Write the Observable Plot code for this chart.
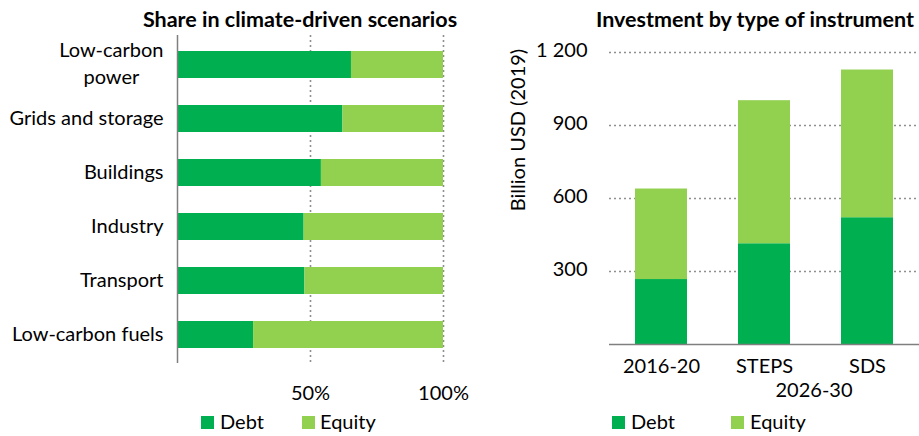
<!DOCTYPE html>
<html>
<head>
<meta charset="utf-8">
<script src="https://cdn.jsdelivr.net/npm/d3@7"></script>
<script src="https://cdn.jsdelivr.net/npm/@observablehq/plot@0.6"></script>
<style>
  html, body { margin: 0; padding: 0; background: #fff; }
  #root { position: relative; width: 919px; height: 436px; font-family: Lato, "Open Sans", sans-serif; color: #000; overflow: hidden; }
  .abs { position: absolute; white-space: nowrap; }
  .title { font-weight: bold; font-size: 21.5px; transform: translate(-50%, -50%); }
  .lbl { font-size: 20px; }
  .sq { position: absolute; width: 13px; height: 13px; }
  svg { position: absolute; top: 0; }
</style>
</head>
<body>
<div id="root"></div>
<script>
// ---- Data ----
const categories = ["Low-carbon power", "Grids and storage", "Buildings", "Industry", "Transport", "Low-carbon fuels"];
const debtShare = [65.4, 62.2, 54.1, 47.6, 47.9, 28.6];
const equityShare = [34.6, 37.8, 45.9, 52.4, 52.1, 71.4];
const shareTicks = [50, 100];

const periods = ["2016-20", "STEPS", "SDS"];
const debtInv = [267, 414, 521];
const equityInv = [372, 588, 607];
const invTicks = [300, 600, 900, 1200];

const types = ["Debt", "Equity"];
const colors = ["#00B050", "#92D050"];

// ---- Tidy tables ----
const shareData = [];
categories.forEach((c, i) => {
  shareData.push({category: c, type: "Debt", value: debtShare[i]});
  shareData.push({category: c, type: "Equity", value: equityShare[i]});
});
const invData = [];
periods.forEach((p, i) => {
  invData.push({period: p, type: "Debt", value: debtInv[i]});
  invData.push({period: p, type: "Equity", value: equityInv[i]});
});

const root = document.getElementById("root");
const gridStyle = {stroke: "#8f8f8f", strokeDasharray: "2,3", strokeWidth: 1.6};
const fmtSpace = d3.formatLocale({decimal: ".", thousands: " ", grouping: [3], currency: ["", ""]}).format(",");
const font = {fontFamily: "Lato, 'Open Sans', sans-serif", fontSize: "20px", color: "#000", background: "transparent"};

// ---- Left chart ----
const left = Plot.plot({
  width: 470, height: 410,
  marginLeft: 177, marginRight: 27, marginTop: 35, marginBottom: 47,
  style: font,
  x: {domain: [0, 100]},
  y: {domain: categories, paddingInner: 0.5, paddingOuter: 0.25, align: 0.5},
  color: {domain: types, range: colors},
  marks: [
    Plot.ruleX(shareTicks, gridStyle),
    Plot.barX(shareData, Plot.stackX({y: "category", x: "value", fill: "type"})),
    Plot.ruleX([0], {stroke: "#7f7f7f", strokeWidth: 1.5}),
    Plot.axisX({ticks: shareTicks, tickSize: 0, tickPadding: 22, tickFormat: d => d + "%", label: null}),
    Plot.axisY({tickSize: 0, tickPadding: 14, label: null, lineHeight: 1.37, dy: -3,
      tickFormat: d => d === "Low-carbon power" ? "Low-carbon\npower" : d})
  ]
});
left.style.left = "0px";
root.appendChild(left);

// ---- Right chart ----
const right = Plot.plot({
  width: 429, height: 410,
  marginLeft: 119, marginRight: 0, marginTop: 52, marginBottom: 66,
  style: font,
  x: {domain: periods, paddingInner: 0.5, paddingOuter: 0.25, align: 0.5},
  y: {domain: [0, 1200]},
  color: {domain: types, range: colors},
  marks: [
    Plot.ruleY(invTicks, gridStyle),
    Plot.barY(invData, Plot.stackY({x: "period", y: "value", fill: "type"})),
    Plot.ruleY([0], {stroke: "#7f7f7f", strokeWidth: 1.5}),
    Plot.axisY({ticks: invTicks, tickSize: 0, tickPadding: 22, tickFormat: fmtSpace, label: null, dy: -1.5}),
    Plot.axisX({tickSize: 0, tickPadding: 14, label: null})
  ]
});
right.style.left = "490px";
root.appendChild(right);

// center-align the lines of the two-line category label (as in the reference)
left.querySelectorAll("text").forEach(t => {
  const spans = t.querySelectorAll("tspan");
  if (spans.length > 1) {
    const w = Math.max(...Array.from(spans, s => s.getComputedTextLength()));
    t.setAttribute("text-anchor", "middle");
    spans.forEach(s => s.setAttribute("x", -w / 2));
  }
});

// ---- HTML text: titles, axis labels, legends ----
function addDiv(cls, text, css) {
  const d = document.createElement("div");
  d.className = "abs " + cls;
  d.textContent = text;
  Object.assign(d.style, css);
  root.appendChild(d);
  return d;
}
addDiv("title", "Share in climate-driven scenarios", {left: "300px", top: "19px"});
addDiv("title", "Investment by type of instrument", {left: "755px", top: "19px"});
addDiv("lbl", "Billion USD (2019)", {left: "517px", top: "130px", fontSize: "20px", transform: "translate(-50%, -50%) rotate(-90deg)"});
addDiv("lbl", "2026-30", {left: "814px", top: "389px", transform: "translate(-50%, -50%)"});

function legend(items) {
  items.forEach(([sx, tx, i]) => {
    const s = document.createElement("div");
    s.className = "sq";
    Object.assign(s.style, {left: sx + "px", top: "416px", background: colors[i]});
    root.appendChild(s);
    addDiv("lbl", types[i], {left: tx + "px", top: "421px", transform: "translateY(-50%)"});
  });
}
legend([[201, 220, 0], [302, 320, 1]]);
legend([[612, 631, 0], [731, 750, 1]]);
</script>
</body>
</html>
